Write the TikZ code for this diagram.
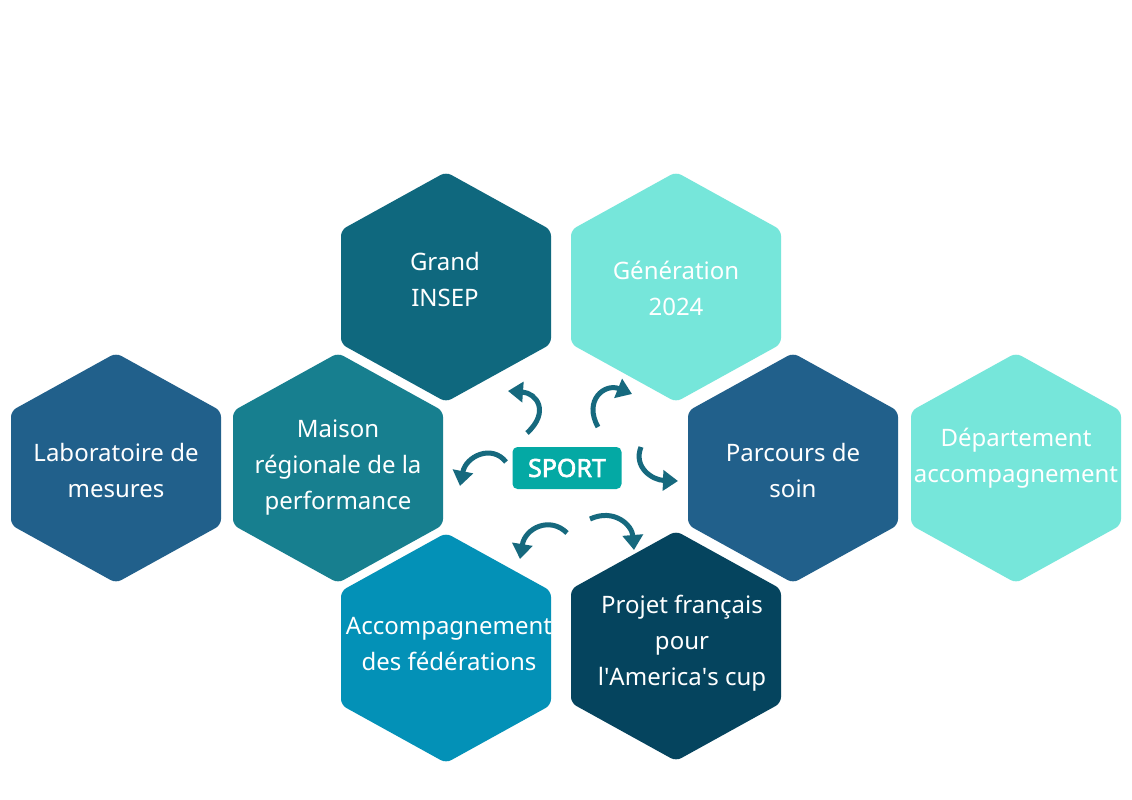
\documentclass[tikz,border=0pt]{standalone}
\usepackage{fontspec}
\setmainfont{Noto Sans}
\newfontfamily\sportfont{Noto Sans}[FakeBold=2.5]
\usetikzlibrary{arrows.meta}
\definecolor{insep}{HTML}{0F687E}
\definecolor{aqua}{HTML}{76E6DA}
\definecolor{bleu}{HTML}{21608B}
\definecolor{maison}{HTML}{177F8F}
\definecolor{fede}{HTML}{0391B7}
\definecolor{projet}{HTML}{05445E}
\definecolor{sportc}{HTML}{04A9A4}
\definecolor{turnc}{HTML}{16697E}
\begin{document}
\begin{tikzpicture}[x=1pt, y=-1pt,
    hexa/.style={fill=#1, rounded corners=6pt},
    hextext/.style={text=white, align=center, font=\fontsize{24}{36}\selectfont},
    turn/.style={draw=turnc, line width=5pt, -{Triangle[width=20pt,length=15pt]}}]
  \fill[white] (0,0) rectangle (1132,800);
  \useasboundingbox (0,0) rectangle (1132,800);
  % hexagons: centre / colour / name / text position / text
  \foreach \x/\y/\c/\n/\tx/\ty/\t in {
      446/287/insep/grand/445/279/{Grand\\INSEP},
      676/287/aqua/generation/676/288/{Génération\\2024},
      116/468/bleu/labo/116/470/{Laboratoire de\\mesures},
      338/468/maison/maison/338/468/{Maison\\régionale de la\\performance},
      793/468/bleu/parcours/793/470/{Parcours de\\soin},
      1016/468/aqua/departement/1016/458/{Département\\accompagnement},
      446/648/fede/federations/449/644/{Accompagnement\\des fédérations},
      676/646/projet/projet/682/643/{Projet français\\pour\\l\textquotesingle America\textquotesingle s cup}}
  {
    \fill[hexa=\c] (\x,\y) ++(0,-115) -- ++(105,58) -- ++(0,114)
      -- ++(-105,58) -- ++(-105,-58) -- ++(0,-114) -- cycle;
    \node[hextext] (\n) at (\tx,\ty) {\t};
  }
  \node[fill=sportc, rounded corners=5pt, minimum width=109pt, minimum height=42pt,
    text=white, font=\fontsize{25}{25}\sportfont] (sport) at (567,468) {SPORT};
  % arrows round the centre
  \coordinate (a1) at (527,433); \coordinate (b1) at (508,391);
  \coordinate (a2) at (598,427); \coordinate (b2) at (632,394);
  \coordinate (a3) at (641,447); \coordinate (b3) at (678,481);
  \coordinate (a4) at (506,462); \coordinate (b4) at (460,486);
  \coordinate (a5) at (567,533); \coordinate (b5) at (520,559);
  \coordinate (a6) at (590,519); \coordinate (b6) at (634,550);
  \draw[turn] (a1) .. controls (550,412) and (537,393) .. (b1);
  \draw[turn] (a2) .. controls (583,400) and (605,383) .. (b2);
  \draw[turn] (a3) .. controls (633,467) and (652,480) .. (b3);
  \draw[turn] (a4) .. controls (492,444) and (466,456) .. (b4);
  \draw[turn] (a5) .. controls (550,516) and (525,528) .. (b5);
  \draw[turn] (a6) .. controls (614,508) and (632,525) .. (b6);
\end{tikzpicture}
\end{document}
